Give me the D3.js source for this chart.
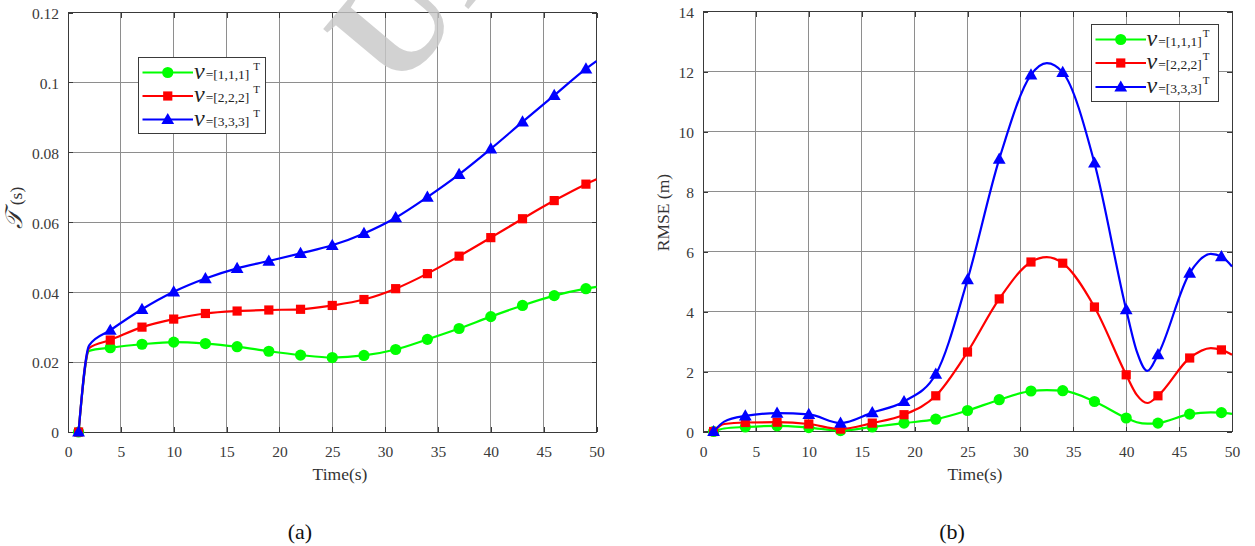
<!DOCTYPE html>
<html>
<head>
<meta charset="utf-8">
<script src="https://cdn.jsdelivr.net/npm/d3@7"></script>
<style>
  html, body { margin: 0; padding: 0; background: #ffffff; }
  svg { display: block; }
  text { font-family: "Liberation Serif", "Times New Roman", serif; }
</style>
</head>
<body>
<svg id="fig" width="1255" height="546"></svg>
<script>
// ---- Data ---------------------------------------------------------------
// (a) computation time
const timeA = [1, 2, 4, 7, 10, 13, 16, 19, 22, 25, 28, 31, 34, 37, 40, 43, 46, 49, 50];
const tauV1 = [0, 0.0232, 0.0241, 0.0251, 0.0257, 0.0253, 0.0244, 0.0231, 0.0220, 0.0213, 0.0219, 0.0236, 0.0265, 0.0296, 0.0330, 0.0362, 0.0390, 0.0410, 0.0415];
const tauV2 = [0, 0.0240, 0.0263, 0.0300, 0.0323, 0.0339, 0.0346, 0.0349, 0.0351, 0.0362, 0.0379, 0.0410, 0.0453, 0.0503, 0.0556, 0.0610, 0.0662, 0.0709, 0.0723];
const tauV3 = [0, 0.0248, 0.0291, 0.0351, 0.0401, 0.0439, 0.0468, 0.0489, 0.0511, 0.0534, 0.0568, 0.0613, 0.0672, 0.0737, 0.0810, 0.0887, 0.0963, 0.1039, 0.1061];

// (b) position RMSE
const timeB = [1, 2, 4, 7, 10, 13, 16, 19, 22, 25, 28, 31, 32.5, 34, 37, 40, 41, 42, 43, 46, 48, 49, 50];
const rmseV1 = [0, 0.10, 0.15, 0.19, 0.13, 0.03, 0.15, 0.28, 0.41, 0.70, 1.06, 1.35, 1.38, 1.36, 1.00, 0.45, 0.31, 0.26, 0.28, 0.58, 0.64, 0.63, 0.59];
const rmseV2 = [0, 0.25, 0.30, 0.31, 0.25, 0.08, 0.28, 0.56, 1.19, 2.65, 4.42, 5.65, 5.81, 5.61, 4.15, 1.89, 1.22, 0.95, 1.19, 2.45, 2.78, 2.72, 2.56];
const rmseV3 = [0, 0.33, 0.52, 0.61, 0.57, 0.28, 0.63, 1.00, 1.91, 5.06, 9.08, 11.89, 12.28, 11.97, 8.95, 4.06, 2.67, 2.02, 2.56, 5.28, 5.92, 5.83, 5.50];

const xTicks = [0, 5, 10, 15, 20, 25, 30, 35, 40, 45, 50];
const yTicksA = [0, 0.02, 0.04, 0.06, 0.08, 0.1, 0.12];
const yTicksB = [0, 2, 4, 6, 8, 10, 12, 14];
const legendVectors = ["[1,1,1]", "[2,2,2]", "[3,3,3]"];
const seriesColors = ["#00ff00", "#ff0000", "#0000ff"];
const seriesMarkers = ["circle", "square", "triangle"];

// ---- Drawing ------------------------------------------------------------
const svg = d3.select("#fig");

function markerPath(kind) {
  if (kind === "circle") return d3.symbol().type(d3.symbolCircle).size(Math.PI * 5.6 * 5.6)();
  if (kind === "square") return "M-4.6,-4.6H4.6V4.6H-4.6Z";
  return "M0,-6.6L6.4,4.6L-6.4,4.6Z";
}

function drawPanel(opt) {
  const g = svg.append("g");
  const x = d3.scaleLinear().domain([0, 50]).range([opt.left, opt.right]);
  const y = d3.scaleLinear().domain(opt.yDomain).range([opt.bottom, opt.top]);

  // grid
  const grid = g.append("g").attr("stroke", "#8e8e8e").attr("stroke-width", 1).attr("shape-rendering", "crispEdges");
  xTicks.slice(1, -1).forEach(t => {
    grid.append("line").attr("x1", x(t)).attr("x2", x(t)).attr("y1", opt.top).attr("y2", opt.bottom);
  });
  opt.yTicks.slice(1, -1).forEach(t => {
    grid.append("line").attr("x1", opt.left).attr("x2", opt.right).attr("y1", y(t)).attr("y2", y(t));
  });

  // axes (D3 axis generators, ticks drawn inward on all four sides)
  const axB = g.append("g").attr("transform", `translate(0,${opt.bottom})`)
    .call(d3.axisBottom(x).tickValues(xTicks).tickSizeInner(-5).tickSizeOuter(0).tickPadding(14));
  const axT = g.append("g").attr("transform", `translate(0,${opt.top})`)
    .call(d3.axisTop(x).tickValues(xTicks).tickSizeInner(-5).tickSizeOuter(0).tickFormat(""));
  const axL = g.append("g").attr("transform", `translate(${opt.left},0)`)
    .call(d3.axisLeft(y).tickValues(opt.yTicks).tickSizeInner(-5).tickSizeOuter(0).tickPadding(9).tickFormat(opt.fmt));
  const axR = g.append("g").attr("transform", `translate(${opt.right},0)`)
    .call(d3.axisRight(y).tickValues(opt.yTicks).tickSizeInner(-5).tickSizeOuter(0).tickFormat(""));
  [axB, axT, axL, axR].forEach(a => {
    a.select(".domain").remove();
    a.selectAll("line").attr("stroke", "#3a3a3a").attr("shape-rendering", "crispEdges");
    a.selectAll("text").attr("fill", "#3a3a3a").attr("font-size", "15.5px")
      .attr("font-family", "Liberation Serif, serif");
  });
  axB.selectAll("text").attr("dy", "0.71em");
  axL.selectAll("text").attr("dy", "0.38em");

  // box
  g.append("rect").attr("x", opt.left).attr("y", opt.top)
    .attr("width", opt.right - opt.left).attr("height", opt.bottom - opt.top)
    .attr("fill", "none").attr("stroke", "#3a3a3a").attr("stroke-width", 1).attr("shape-rendering", "crispEdges");

  // series
  const line = d3.line().curve(d3.curveMonotoneX).x(d => x(d[0])).y(d => y(d[1]));
  opt.series.forEach((vals, i) => {
    const pts = opt.time.map((t, k) => [t, vals[k]]);
    g.append("path").attr("d", line(pts)).attr("fill", "none")
      .attr("stroke", seriesColors[i]).attr("stroke-width", 2.2).attr("stroke-linejoin", "round");
    g.append("g").selectAll("path").data(pts.filter(p => Number.isInteger(p[0]) && (p[0] - 1) % 3 === 0))
      .join("path")
      .attr("d", markerPath(seriesMarkers[i]))
      .attr("transform", d => `translate(${x(d[0])},${y(d[1])})`)
      .attr("fill", seriesColors[i]);
  });

  // axis titles
  g.append("text").attr("x", opt.xLabelX).attr("y", 480).attr("text-anchor", "middle")
    .attr("font-size", "17.5px").attr("fill", "#333").text("Time(s)");
  opt.yLabel(g);

  // panel caption
  g.append("text").attr("x", opt.captionX).attr("y", 539).attr("text-anchor", "middle")
    .attr("font-size", "22px").attr("fill", "#111").text(opt.caption);

  // legend
  const L = opt.legend;
  const lg = g.append("g");
  lg.append("rect").attr("x", L.x).attr("y", L.y).attr("width", L.w).attr("height", L.h)
    .attr("fill", "#ffffff").attr("stroke", "#3a3a3a").attr("stroke-width", 1).attr("shape-rendering", "crispEdges");
  legendVectors.forEach((vec, i) => {
    const ry = L.rows[i];
    lg.append("line").attr("x1", L.lineX0).attr("x2", L.lineX1).attr("y1", ry).attr("y2", ry)
      .attr("stroke", seriesColors[i]).attr("stroke-width", 2.2);
    lg.append("path").attr("d", markerPath(seriesMarkers[i]))
      .attr("transform", `translate(${(L.lineX0 + L.lineX1) / 2},${ry})`)
      .attr("fill", seriesColors[i]);
    const t = lg.append("text").attr("x", L.textX).attr("y", ry + 6).attr("fill", "#222");
    t.append("tspan").attr("font-style", "italic").attr("font-size", "24px").text("v");
    t.append("tspan").attr("font-size", "13.5px").attr("dx", "1").text("=" + vec);
    t.append("tspan").attr("font-size", "11px").attr("dy", "-9").attr("dx", L.supGap).text("T");
  });
}

drawPanel({
  left: 68, right: 596.5, top: 12.5, bottom: 432,
  yDomain: [0, 0.12], yTicks: yTicksA,
  fmt: d => d === 0 ? "0" : String(+d.toFixed(2)),
  time: timeA, series: [tauV1, tauV2, tauV3],
  xLabelX: 340, captionX: 300, caption: "(a)",
  yLabel: g => {
    const t = g.append("text").attr("transform", "translate(22,208) rotate(-90)")
      .attr("text-anchor", "middle").attr("fill", "#333");
    t.append("tspan").attr("font-size", "24px").attr("font-style", "italic").text("\u{1D4AF}");
    t.append("tspan").attr("font-size", "17.5px").attr("dx", "6").text("(s)");
  },
  legend: { x: 138.5, y: 57.5, w: 127, h: 76, rows: [72.5, 96, 119.5],
            lineX0: 142.5, lineX1: 193, textX: 194, supGap: "4" }
});

drawPanel({
  left: 703, right: 1232, top: 11.5, bottom: 431.5,
  yDomain: [0, 14], yTicks: yTicksB,
  fmt: d => String(d),
  time: timeB, series: [rmseV1, rmseV2, rmseV3],
  xLabelX: 975, captionX: 952, caption: "(b)",
  yLabel: g => {
    g.append("text").attr("transform", "translate(668.5,212.5) rotate(-90)")
      .attr("text-anchor", "middle").attr("font-size", "17.5px").attr("fill", "#333").text("RMSE (m)");
  },
  legend: { x: 1091.5, y: 24.5, w: 127, h: 76.5, rows: [39.5, 63, 87],
            lineX0: 1095.5, lineX1: 1146, textX: 1146.5, supGap: "1" }
});

// publisher watermark across the top
svg.append("text").attr("transform", "translate(396,95) rotate(-50)")
  .attr("font-size", "150px").attr("font-weight", "bold").attr("fill", "#c8c8c8").attr("opacity", 0.8)
  .text("Un");
</script>
</body>
</html>
